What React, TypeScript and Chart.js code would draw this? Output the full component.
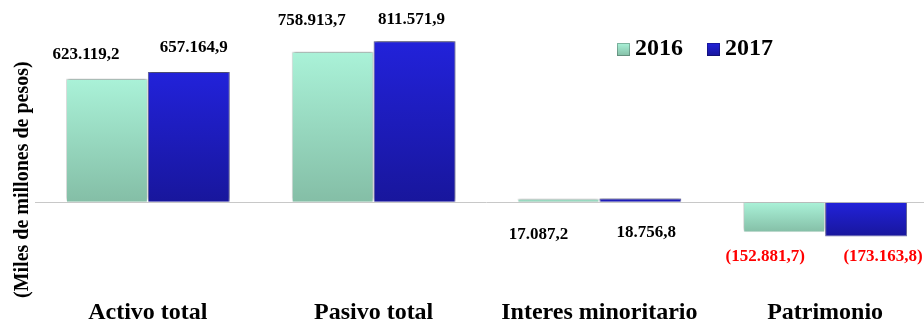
import React, { useEffect, useRef } from "react";
import { Chart, registerables } from "chart.js";

Chart.register(...registerables);

const categories = ["Activo total", "Pasivo total", "Interes minoritario", "Patrimonio"];
const seriesLabels = ["2016", "2017"];
const values2016 = [623119.2, 758913.7, 17087.2, -152881.7];
const values2017 = [657164.9, 811571.9, 18756.8, -173163.8];
const yAxisTitle = "(Miles de millones de pesos)";

// label placement offsets (px) relative to the bar's value end
const labelDx = [
  [-21, -21, -20, -19],
  [5, -3, 6, 17],
];
const labelDy = [
  [-24, -31, 36, 24],
  [-24, -22, 34, 20],
];

const FONT = "'Liberation Serif', 'Times New Roman', serif";

const colors = [
  { top: "#aaf2d8", bottom: "#84bea6" },
  { top: "#2222da", bottom: "#18169c" },
];

function fmt(v: number): string {
  const a = Math.abs(v);
  const [i, d] = a.toFixed(1).split(".");
  const ii = i.replace(/\B(?=(\d{3})+(?!\d))/g, ".");
  const s = `${ii},${d}`;
  return v < 0 ? `(${s})` : s;
}

function gradient(top: string, bottom: string) {
  return (ctx: any) => {
    const chart = ctx.chart;
    const y = chart.scales?.y;
    if (!y || ctx.type !== "data") return top;
    const v = ctx.raw as number;
    const p1 = y.getPixelForValue(Math.max(v, 0));
    const p2 = y.getPixelForValue(Math.min(v, 0));
    if (!isFinite(p1) || !isFinite(p2) || p1 === p2) return top;
    const g = chart.ctx.createLinearGradient(0, p1, 0, p2);
    g.addColorStop(0, top);
    g.addColorStop(1, bottom);
    return g;
  };
}

const decorPlugin = {
  id: "decor",
  beforeDatasetsDraw(chart: any) {
    const ctx = chart.ctx;
    ctx.save();
    ctx.shadowColor = "rgba(0,0,0,0.45)";
    ctx.shadowBlur = 3;
    ctx.shadowOffsetX = 0;
    ctx.shadowOffsetY = -2;
  },
  afterDatasetsDraw(chart: any) {
    const ctx = chart.ctx;
    ctx.restore();
    // value labels
    ctx.save();
    ctx.font = `bold 17px ${FONT}`;
    ctx.textAlign = "center";
    ctx.textBaseline = "middle";
    chart.data.datasets.forEach((ds: any, di: number) => {
      const meta = chart.getDatasetMeta(di);
      meta.data.forEach((bar: any, i: number) => {
        const v = ds.data[i] as number;
        ctx.fillStyle = v < 0 ? "#ff0000" : "#000000";
        ctx.fillText(fmt(v), bar.x + labelDx[di][i], bar.y + labelDy[di][i]);
      });
    });
    // legend
    ctx.font = `bold 24px ${FONT}`;
    ctx.textAlign = "left";
    ctx.textBaseline = "middle";
    let x = 617;
    const yc = 49;
    chart.data.datasets.forEach((ds: any, di: number) => {
      const c = colors[di];
      const g = ctx.createLinearGradient(0, yc - 6, 0, yc + 7);
      g.addColorStop(0, c.top);
      g.addColorStop(1, c.bottom);
      ctx.fillStyle = g;
      ctx.fillRect(x, yc - 6, 13, 13);
      ctx.strokeStyle = "rgba(0,0,0,0.25)";
      ctx.lineWidth = 1;
      ctx.strokeRect(x + 0.5, yc - 5.5, 12, 12);
      ctx.fillStyle = "#000";
      ctx.fillText(ds.label, x + 18, yc);
      x += 90;
    });
    ctx.restore();
  },
};

export default function App() {
  const ref = useRef<HTMLCanvasElement | null>(null);

  useEffect(() => {
    if (!ref.current) return;
    const chart = new Chart(ref.current, {
      type: "bar",
      data: {
        labels: categories,
        datasets: [
          {
            label: seriesLabels[0],
            data: values2016,
            backgroundColor: gradient(colors[0].top, colors[0].bottom),
            borderColor: "rgba(255,255,255,0.35)",
            borderWidth: 1,
            categoryPercentage: 0.7257,
            barPercentage: 1,
            clip: false as any,
          },
          {
            label: seriesLabels[1],
            data: values2017,
            backgroundColor: gradient(colors[1].top, colors[1].bottom),
            borderColor: "rgba(20,20,120,0.6)",
            borderWidth: 1,
            categoryPercentage: 0.7257,
            barPercentage: 1,
            clip: false as any,
          },
        ],
      },
      options: {
        responsive: true,
        maintainAspectRatio: false,
        animation: false,
        layout: { padding: 0 },
        plugins: {
          legend: { display: false },
          tooltip: { enabled: false },
        },
        scales: {
          x: {
            grid: { display: false },
            border: { display: false },
            ticks: {
              color: "#000",
              padding: -5,
              maxRotation: 0,
              autoSkip: false,
              font: { family: FONT, size: 24, weight: "bold", lineHeight: 1 },
            },
          },
          y: {
            min: -483000,
            max: 1020100,
            afterBuildTicks: (s: any) => {
              s.ticks = [{ value: 0 }];
            },
            ticks: { display: false },
            grid: { color: "#c8c8c8", drawTicks: false, lineWidth: 1 },
            border: { display: false },
            title: {
              display: true,
              text: yAxisTitle,
              align: "start",
              color: "#000",
              font: { family: FONT, size: 20, weight: "bold" },
              padding: { top: 11, bottom: 0 },
            },
          },
        },
      },
      plugins: [decorPlugin],
    });
    return () => chart.destroy();
  }, []);

  return (
    <div
      style={{
        position: "fixed",
        left: 0,
        top: 0,
        width: 924,
        height: 320,
        overflow: "hidden",
        background: "#fff",
      }}
    >
      <div style={{ position: "relative", width: 938, height: 320 }}>
        <canvas ref={ref} />
      </div>
    </div>
  );
}
